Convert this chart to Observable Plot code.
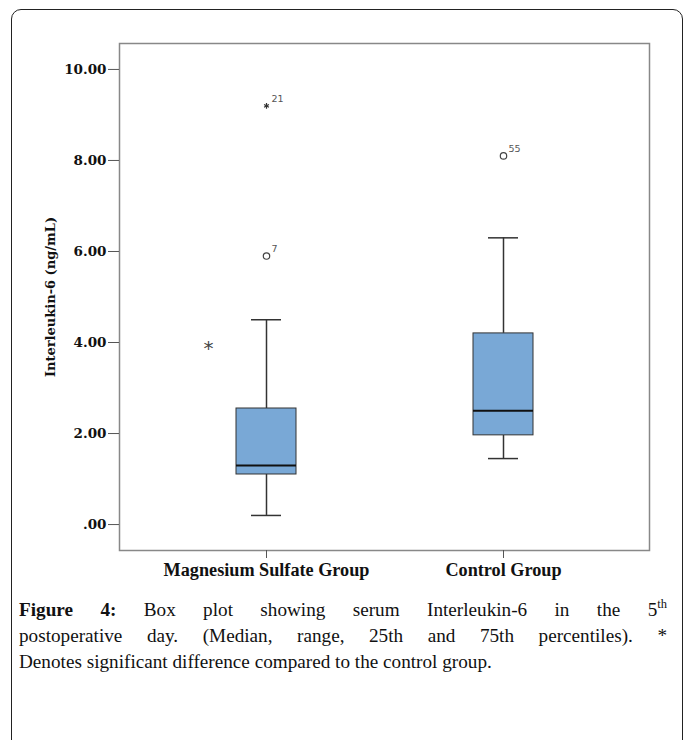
<!DOCTYPE html>
<html>
<head>
<meta charset="utf-8">
<script src="https://cdn.jsdelivr.net/npm/d3@7"></script>
<script src="https://cdn.jsdelivr.net/npm/@observablehq/plot@0.6"></script>
<style>
  html, body { margin: 0; padding: 0; background: #fff; }
  body { position: relative; width: 683px; height: 740px; overflow: hidden; }
  #frame { position: absolute; left: 11px; top: 9px; width: 672px; height: 780px;
           border: 1.5px solid #222; border-radius: 10px 10px 0 0; box-sizing: border-box; }
  #chart { position: absolute; left: 0; top: 0; }
  #chart svg { font-family: "Liberation Serif", "Times New Roman", serif; }
  #chart g[aria-label="y-axis tick label"] { font-family: "DejaVu Serif", serif; font-size: 13.5px; font-weight: bold; fill: #111; }
  #chart g[aria-label="y-axis label"] { font-family: "DejaVu Serif", serif; font-size: 13px; font-weight: bold; fill: #111; }
  #chart g[aria-label="x-axis tick label"] { font-size: 18.2px; font-weight: bold; fill: #111; }
  #caption { position: absolute; left: 19px; top: 597px; width: 648px;
             font-family: "Liberation Serif", "Times New Roman", serif; font-size: 19.2px;
             line-height: 26px; color: #111; }
  #caption div { text-align: justify; text-align-last: justify; white-space: nowrap; }
  #caption div.last { text-align: left; text-align-last: left; }
  #caption b { font-weight: bold; }
  #caption sup { font-size: 12.5px; line-height: 0; vertical-align: 8px; }
</style>
</head>
<body>
<div id="frame"></div>
<div id="chart"></div>
<div id="caption">
  <div><b>Figure 4:</b> Box plot showing serum Interleukin-6 in the 5<sup>th</sup></div>
  <div>postoperative day. (Median, range, 25th and 75th percentiles). *</div>
  <div class="last">Denotes significant difference compared to the control group.</div>
</div>
<script>
// ---- data ----
const groups = ["Magnesium Sulfate Group", "Control Group"];
const whiskerLow = [0.2, 1.45];
const q1 = [1.1, 1.96];
const median = [1.3, 2.5];
const q3 = [2.55, 4.2];
const whiskerHigh = [4.5, 6.3];

const outlierGroups = ["Magnesium Sulfate Group", "Magnesium Sulfate Group", "Control Group"];
const outlierValues = [5.9, 9.2, 8.1];
const outlierIds = ["7", "21", "55"];
const outlierKinds = ["outlier", "extreme", "outlier"];

const sigGroup = "Magnesium Sulfate Group";
const sigValue = 3.95;

const yTicks = [0, 2, 4, 6, 8, 10];
const yLabel = "Interleukin-6 (ng/mL)";

// ---- build tables ----
const boxes = groups.map((g, i) => ({group: g, lo: whiskerLow[i], q1: q1[i], med: median[i], q3: q3[i], hi: whiskerHigh[i]}));
const outliers = outlierGroups.map((g, i) => ({group: g, value: outlierValues[i], id: outlierIds[i], kind: outlierKinds[i]}));
const circles = outliers.filter(d => d.kind === "outlier");
const extremes = outliers.filter(d => d.kind === "extreme");

const chart = Plot.plot({
  width: 683,
  height: 600,
  marginLeft: 119,
  marginRight: 34,
  marginTop: 43,
  marginBottom: 50,
  style: {background: "transparent"},
  x: {domain: groups, paddingInner: 0.747, paddingOuter: 0.489, label: null},
  y: {domain: [-0.57, 10.57], label: null},
  marks: [
    Plot.frame({stroke: "#888", strokeWidth: 1.5}),
    Plot.axisY({ticks: yTicks, tickFormat: d => d === 0 ? ".00" : d.toFixed(2), tickSize: 11, tickPadding: 2,
                stroke: "#555", label: yLabel, labelAnchor: "center", labelArrow: "none", labelOffset: 74}),
    Plot.axisX({tickSize: 8, tickPadding: 5, stroke: "#555", label: null}),
    Plot.ruleX(boxes, {x: "group", y1: "lo", y2: "q1", stroke: "#333", strokeWidth: 1.5}),
    Plot.ruleX(boxes, {x: "group", y1: "q3", y2: "hi", stroke: "#333", strokeWidth: 1.5}),
    Plot.tickY(boxes, {x: "group", y: "lo", stroke: "#333", strokeWidth: 1.5, insetLeft: 15, insetRight: 15}),
    Plot.tickY(boxes, {x: "group", y: "hi", stroke: "#333", strokeWidth: 1.5, insetLeft: 15, insetRight: 15}),
    Plot.barY(boxes, {x: "group", y1: "q1", y2: "q3", fill: "#79a8d6", stroke: "#333", strokeWidth: 1}),
    Plot.tickY(boxes, {x: "group", y: "med", stroke: "#111", strokeWidth: 2}),
    Plot.dot(circles, {x: "group", y: "value", r: 3.2, stroke: "#444", strokeWidth: 1.2, fill: "white"}),
    Plot.dot(extremes, {x: "group", y: "value", r: 2.6, symbol: "asterisk", stroke: "#333", strokeWidth: 1.2}),
    Plot.text(outliers, {x: "group", y: "value", text: "id", dx: 5, dy: -7, textAnchor: "start",
                         fontSize: 9.5, fill: "#555", fontFamily: "'DejaVu Sans', sans-serif"}),
    Plot.text([{group: sigGroup, value: sigValue}], {x: "group", y: "value", text: () => "*", dx: -58, dy: 4,
                         fontSize: 20, fill: "#444", fontFamily: "'DejaVu Sans', sans-serif"})
  ]
});
document.getElementById("chart").appendChild(chart);
</script>
</body>
</html>
